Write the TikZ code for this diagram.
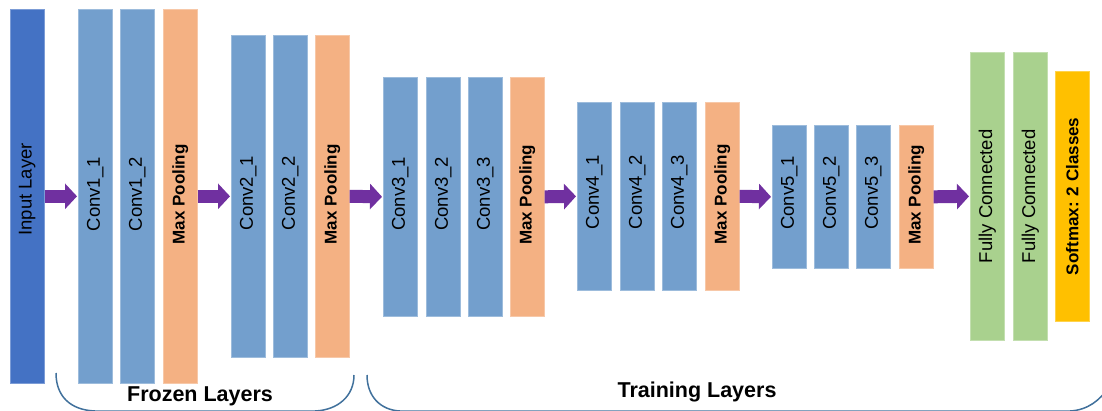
\documentclass[tikz,border=0pt]{standalone}
\usepackage{fontspec}
\setmainfont{Liberation Sans}
\usetikzlibrary{arrows.meta}
\definecolor{inblue}{HTML}{4472C4}
\definecolor{convblue}{HTML}{739FCD}
\definecolor{poolorange}{HTML}{F4B183}
\definecolor{fcgreen}{HTML}{A9D18E}
\definecolor{smgold}{HTML}{FFC000}
\definecolor{arrowpurple}{HTML}{7030A0}
\definecolor{bracecol}{HTML}{41719C}
\tikzset{
  bar/.style={anchor=north west, minimum width=34pt, inner sep=0pt, line width=0.6pt},
  inlayer/.style={bar, fill=inblue, draw=inblue!70!white},
  conv/.style={bar, fill=convblue, draw=convblue!70!white},
  pool/.style={bar, fill=poolorange, draw=poolorange!70!white},
  fc/.style={bar, fill=fcgreen, draw=fcgreen!70!white},
  soft/.style={bar, fill=smgold, draw=smgold!70!white},
  lbl/.style={rotate=90, font=\fontsize{18.5}{21}\selectfont, inner sep=0pt},
  boldlbl/.style={rotate=90, font=\fontsize{17}{20}\selectfont\bfseries, inner sep=0pt},
  flow/.style={arrowpurple, line width=13pt, -{Triangle[length=12pt,width=25pt]}, shorten >=1pt},
  brace/.style={bracecol, line width=1.5pt},
  grouplbl/.style={font=\fontsize{21.5}{24}\selectfont\bfseries}
}
\begin{document}
\begin{tikzpicture}[x=1pt,y=-1pt]
\useasboundingbox (0,0) rectangle (1102,410);
\clip (0,0) rectangle (1102,410);
% stage 0
\node[inlayer, minimum height=374pt] (in) at (10,9) {};
% stage 1
\node[conv, minimum height=374pt] (c11) at (78,9) {};
\node[conv, minimum height=374pt] (c12) at (120,9) {};
\node[pool, minimum height=374pt] (p1) at (163,9) {};
% stage 2
\node[conv, minimum height=322pt] (c21) at (231,35) {};
\node[conv, minimum height=322pt] (c22) at (273,35) {};
\node[pool, minimum height=322pt] (p2) at (315,35) {};
% stage 3
\node[conv, minimum height=239pt] (c31) at (383,77) {};
\node[conv, minimum height=239pt] (c32) at (426,77) {};
\node[conv, minimum height=239pt] (c33) at (468,77) {};
\node[pool, minimum height=239pt] (p3) at (510,77) {};
% stage 4
\node[conv, minimum height=188pt] (c41) at (577,102) {};
\node[conv, minimum height=188pt] (c42) at (620,102) {};
\node[conv, minimum height=188pt] (c43) at (662,102) {};
\node[pool, minimum height=188pt] (p4) at (705,102) {};
% stage 5
\node[conv, minimum height=143pt] (c51) at (772,125) {};
\node[conv, minimum height=143pt] (c52) at (814,125) {};
\node[conv, minimum height=143pt] (c53) at (856,125) {};
\node[pool, minimum height=143pt] (p5) at (899,125) {};
% classifier
\node[fc, minimum height=288pt] (fc1) at (970,52) {};
\node[fc, minimum height=288pt] (fc2) at (1013,52) {};
\node[soft, minimum height=250pt] (sm) at (1055,71) {};
% labels
\node[lbl] (tin) at ([yshift=7pt]in.center) {Input Layer};
\node[lbl] (t11) at ([yshift=2pt]c11.center) {Conv1\_1};
\node[lbl] (t12) at ([yshift=2pt]c12.center) {Conv1\_2};
\node[boldlbl] (tp1) at ([yshift=2pt]p1.center) {Max Pooling};
\node[lbl] (t21) at ([yshift=3pt]c21.center) {Conv2\_1};
\node[lbl] (t22) at ([yshift=3pt]c22.center) {Conv2\_2};
\node[boldlbl] (tp2) at ([yshift=2pt]p2.center) {Max Pooling};
\node[lbl] (t31) at ([yshift=3pt]c31.center) {Conv3\_1};
\node[lbl] (t32) at ([yshift=3pt]c32.center) {Conv3\_2};
\node[lbl] (t33) at ([yshift=3pt]c33.center) {Conv3\_3};
\node[boldlbl] (tp3) at ([yshift=2pt]p3.center) {Max Pooling};
\node[lbl] (t41) at ([yshift=4pt]c41.center) {Conv4\_1};
\node[lbl] (t42) at ([yshift=4pt]c42.center) {Conv4\_2};
\node[lbl] (t43) at ([yshift=4pt]c43.center) {Conv4\_3};
\node[boldlbl] (tp4) at ([yshift=2pt]p4.center) {Max Pooling};
\node[lbl] (t51) at ([yshift=4pt]c51.center) {Conv5\_1};
\node[lbl] (t52) at ([yshift=4pt]c52.center) {Conv5\_2};
\node[lbl] (t53) at ([yshift=4pt]c53.center) {Conv5\_3};
\node[boldlbl] (tp5) at ([yshift=2pt]p5.center) {Max Pooling};
\node[lbl] (tf1) at (fc1.center) {Fully Connected};
\node[lbl] (tf2) at (fc2.center) {Fully Connected};
\node[boldlbl] (tsm) at (sm.center) {Softmax: 2 Classes};
% arrows
\draw[flow] (in.east) -- (c11.west);
\draw[flow] (p1.east) -- (c21.west);
\draw[flow] (p2.east) -- (c31.west);
\draw[flow] (p3.east) -- (c41.west);
\draw[flow] (p4.east) -- (c51.west);
\draw[flow] (p5.east) -- (fc1.west);
% braces
\draw[brace] (56,373) .. controls (56,396) and (70,410) .. (95,411) -- (315,411)
  .. controls (338,410) and (354,396) .. (354,375);
\draw[brace] (367,375) .. controls (367,396) and (380,410) .. (400,411) -- (1070,411)
  .. controls (1088,410) and (1100,400) .. (1108,388);
\node[grouplbl] (frozen) at (200,396) {Frozen Layers};
\node[grouplbl] (training) at (697,392) {Training Layers};
\end{tikzpicture}
\end{document}
